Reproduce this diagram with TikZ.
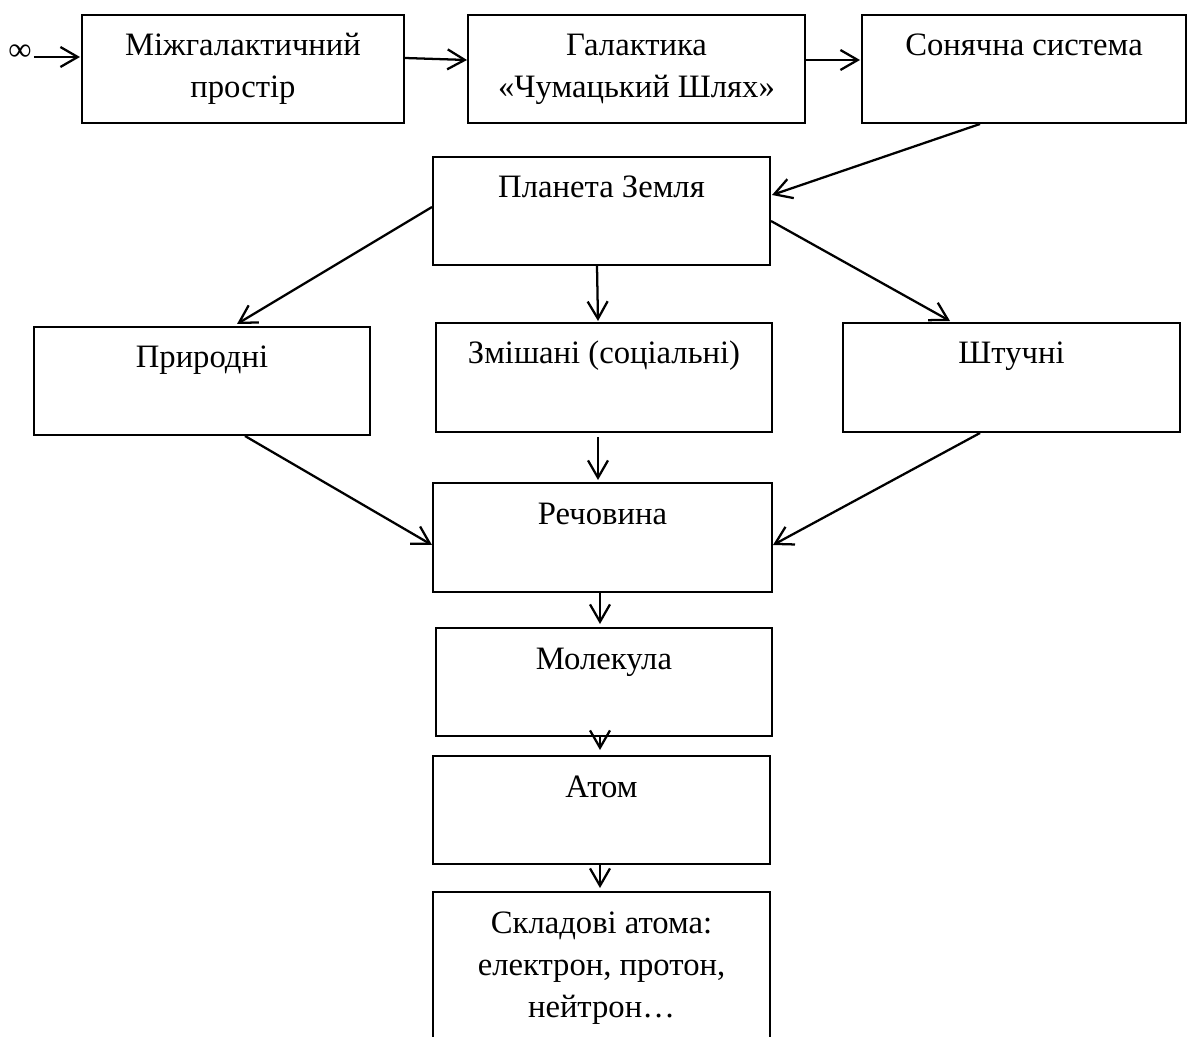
\documentclass[tikz,border=0pt]{standalone}
\usepackage{fontspec}
\setmainfont{Liberation Serif}
\usetikzlibrary{arrows.meta,calc}
\newcommand\mylbl[3]{\node[lbl] (#1) at ($(#2.north)+(0,41)$) {\parbox[t]{250pt}{\centering #3}};}
\begin{document}
\begin{tikzpicture}[x=0.75pt,y=-0.75pt,
  box/.style={draw, line width=2pt, inner sep=0pt, outer sep=0pt},
  lbl/.style={inner sep=0pt, anchor=base, font=\fontsize{24.5}{31.5}\selectfont},
  arr/.style={line width=1.7pt, -{Straight Barb[length=13pt,width=15pt]}}]
\useasboundingbox (0,0) rectangle (1189,1037);
\clip (0,0) rectangle (1189,1037);
% boxes
\node[box, minimum width=241.5pt, minimum height=81pt] (b1) at (243,69) {};
\node[box, minimum width=252.75pt, minimum height=81pt] (b2) at (636.5,69) {};
\node[box, minimum width=243pt, minimum height=81pt] (b3) at (1024,69) {};
\node[box, minimum width=252.75pt, minimum height=81pt] (planet) at (601.5,211) {};
\node[box, minimum width=252pt, minimum height=81pt] (nat) at (202,381) {};
\node[box, minimum width=252pt, minimum height=81.75pt] (mix) at (604,377.5) {};
\node[box, minimum width=252.75pt, minimum height=81.75pt] (art) at (1011.5,377.5) {};
\node[box, minimum width=254.25pt, minimum height=81.75pt] (mat) at (602.5,537.5) {};
\node[box, minimum width=252pt, minimum height=81pt] (mol) at (604,682) {};
\node[box, minimum width=252.75pt, minimum height=81pt] (atom) at (601.5,810) {};
\node[box, minimum width=252.75pt, minimum height=126pt] (parts) at (601.5,976) {};
% texts
\mylbl{t1}{b1}{Міжгалактичний\\простір}
\mylbl{t2}{b2}{Галактика\\«Чумацький Шлях»}
\mylbl{t3}{b3}{Сонячна система}
\mylbl{t4}{planet}{Планета Земля}
\mylbl{t5}{nat}{Природні}
\mylbl{t6}{mix}{Змішані (соціальні)}
\mylbl{t7}{art}{Штучні}
\mylbl{t8}{mat}{Речовина}
\mylbl{t9}{mol}{Молекула}
\mylbl{t10}{atom}{Атом}
\mylbl{t11}{parts}{Складові атома:\\електрон, протон,\\нейтрон…}
\node[lbl, anchor=center] (inf) at (20,53) {∞};
% connectors
\draw[arr] ($(inf.east)+(2,4)$) -- ($(b1.west)+(-2,-12)$);
\draw[arr] ($(b1.east)+(1,-11)$) -- ($(b2.west)+(-1,-9)$);
\draw[arr] ($(b2.east)+(1,-9)$) -- ($(b3.west)+(-2,-9)$);
\draw[arr] ($(b3.south)+(-44,1)$) -- ($(planet.east)+(2,-16)$);
\draw[arr] ($(planet.west)+(-1,-4)$) -- ($(nat.north)+(35,-3)$);
\draw[arr] ($(planet.south)+(-4.5,1)$) -- ($(mix.north)+(-6,-2)$);
\draw[arr] ($(planet.east)+(1,10)$) -- ($(art.north)+(-61.5,-2)$);
\draw[arr] ($(nat.south)+(43,1)$) -- ($(mat.west)+(-1,7.5)$);
\draw[arr] ($(mix.south)+(-6,5)$) -- ($(mat.north)+(-4.5,-3)$);
\draw[arr] ($(art.south)+(-31.5,1)$) -- ($(mat.east)+(1,7.5)$);
\draw[arr] ($(mat.south)+(-2.5,1)$) -- ($(mol.north)+(-4,-4)$);
\draw[arr] ($(mol.south)+(-4,0)$) -- ($(atom.north)+(-1.5,-6)$);
\draw[arr] ($(atom.south)+(-1.5,1)$) -- ($(parts.north)+(-1.5,-4)$);
\end{tikzpicture}
\end{document}
